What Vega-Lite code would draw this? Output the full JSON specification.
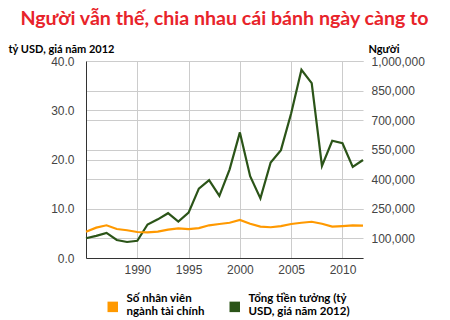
{
  "$schema": "https://vega.github.io/schema/vega-lite/v6.json",
  "width": 277,
  "height": 197,
  "autosize": {"type": "none"},
  "padding": {"left": 86, "top": 61, "right": 87, "bottom": 62},
  "background": "white",
  "title": {
    "text": "Người vẫn thế, chia nhau cái bánh ngày càng to",
    "font": "Lato",
    "fontSize": 19.6,
    "fontWeight": "bold",
    "color": "#e8232a",
    "anchor": "middle",
    "offset": 13
  },
  "data": {
    "values": [
      {"year": 1985, "employees": 133700, "bonus": 4.0},
      {"year": 1986, "employees": 154000, "bonus": 4.5},
      {"year": 1987, "employees": 166000, "bonus": 5.1},
      {"year": 1988, "employees": 147000, "bonus": 3.65},
      {"year": 1989, "employees": 141000, "bonus": 3.25},
      {"year": 1990, "employees": 132000, "bonus": 3.5},
      {"year": 1991, "employees": 130000, "bonus": 6.8},
      {"year": 1992, "employees": 134000, "bonus": 7.85},
      {"year": 1993, "employees": 144000, "bonus": 9.1},
      {"year": 1994, "employees": 150500, "bonus": 7.4},
      {"year": 1995, "employees": 147000, "bonus": 9.2},
      {"year": 1996, "employees": 152000, "bonus": 14.1},
      {"year": 1997, "employees": 166000, "bonus": 15.8},
      {"year": 1998, "employees": 172500, "bonus": 12.6},
      {"year": 1999, "employees": 179000, "bonus": 18.0},
      {"year": 2000, "employees": 193000, "bonus": 25.5},
      {"year": 2001, "employees": 174000, "bonus": 16.6},
      {"year": 2002, "employees": 159000, "bonus": 12.1},
      {"year": 2003, "employees": 156000, "bonus": 19.4},
      {"year": 2004, "employees": 162000, "bonus": 21.9},
      {"year": 2005, "employees": 172500, "bonus": 29.4},
      {"year": 2006, "employees": 179000, "bonus": 38.2},
      {"year": 2007, "employees": 184000, "bonus": 35.5},
      {"year": 2008, "employees": 174000, "bonus": 18.7},
      {"year": 2009, "employees": 159000, "bonus": 23.8},
      {"year": 2010, "employees": 162000, "bonus": 23.3},
      {"year": 2011, "employees": 166000, "bonus": 18.5},
      {"year": 2012, "employees": 164000, "bonus": 19.9}
    ]
  },
  "encoding": {
    "x": {
      "field": "year",
      "type": "quantitative",
      "scale": {"domain": [1985, 2012], "nice": false, "zero": false},
      "axis": {
        "title": null,
        "values": [1990, 1995, 2000, 2005, 2010],
        "format": "d",
        "grid": true,
        "gridColor": "#cccccc",
        "domainColor": "#333333",
        "ticks": false,
        "labelPadding": 6,
        "labelFont": "Liberation Sans",
        "labelFontSize": 12,
        "labelColor": "#444444"
      }
    }
  },
  "layer": [
    {
      "mark": {"type": "line", "strokeWidth": 2.2},
      "encoding": {
        "y": {
          "field": "bonus",
          "type": "quantitative",
          "scale": {"domain": [0, 40], "nice": false},
          "axis": {
            "orient": "left",
            "values": [0, 10, 20, 30, 40],
            "format": ".1f",
            "grid": true,
            "gridColor": "#cccccc",
            "domainColor": "#333333",
            "ticks": false,
            "labelPadding": 12,
            "labelFont": "Liberation Sans",
            "labelFontSize": 12,
            "labelColor": "#444444",
            "title": "tỷ USD, giá năm 2012",
            "titleAngle": 0,
            "titleAlign": "left",
            "titleBaseline": "alphabetic",
            "titleX": -78,
            "titleY": -9,
            "titleFont": "Lato",
            "titleFontSize": 11,
            "titleFontWeight": "bold",
            "titleColor": "#000000"
          }
        },
        "color": {"datum": "Tổng tiền tưởng (tỷ USD, giá năm 2012)"}
      }
    },
    {
      "mark": {"type": "line", "strokeWidth": 2.2},
      "encoding": {
        "y": {
          "field": "employees",
          "type": "quantitative",
          "scale": {"domain": [0, 1000000], "nice": false},
          "axis": {
            "orient": "right",
            "values": [100000, 250000, 400000, 550000, 700000, 850000, 1000000],
            "format": ",d",
            "grid": true,
            "gridColor": "#cccccc",
            "domain": false,
            "ticks": false,
            "labelPadding": 8,
            "labelFont": "Liberation Sans",
            "labelFontSize": 12,
            "labelColor": "#444444",
            "title": "Người",
            "titleAngle": 0,
            "titleAlign": "left",
            "titleBaseline": "alphabetic",
            "titleX": 5,
            "titleY": -9,
            "titleFont": "Lato",
            "titleFontSize": 11,
            "titleFontWeight": "bold",
            "titleColor": "#000000"
          }
        },
        "color": {
          "datum": "Số nhân viên ngành tài chính",
          "type": "nominal",
          "scale": {
            "domain": ["Số nhân viên ngành tài chính", "Tổng tiền tưởng (tỷ USD, giá năm 2012)"],
            "range": ["#ff9900", "#2b5418"]
          },
          "legend": {
            "title": null,
            "orient": "none",
            "legendX": 21,
            "legendY": 240,
            "direction": "horizontal",
            "symbolType": "square",
            "symbolSize": 110,
            "labelFont": "Lato",
            "labelFontSize": 11.5,
            "labelFontWeight": "bold",
            "labelColor": "#000000",
            "labelLimit": 200,
            "labelOffset": 8,
            "labelBaseline": "middle",
            "columnPadding": 24,
            "labelExpr": "datum.label == 'Số nhân viên ngành tài chính' ? ['Số nhân viên', 'ngành tài chính'] : ['Tổng tiền tưởng (tỷ', 'USD, giá năm 2012)']",
            "encode": {
              "symbols": {
                "update": {
                  "fill": {"scale": "color", "field": "value"},
                  "fillOpacity": {"value": 1},
                  "strokeWidth": {"value": 0}
                }
              },
              "labels": {
                "update": {
                  "dy": {"value": -8}
                }
              }
            }
          }
        }
      }
    }
  ],
  "resolve": {"scale": {"y": "independent"}},
  "config": {
    "view": {"stroke": null}
  }
}
